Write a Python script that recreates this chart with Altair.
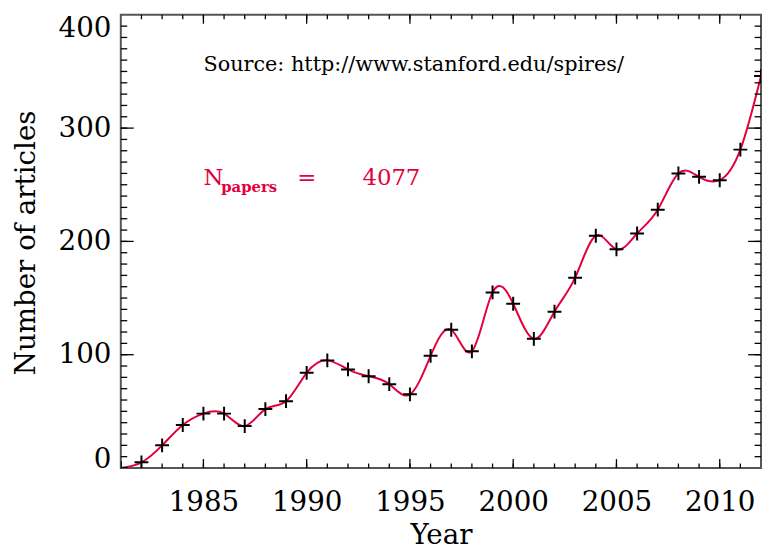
import altair as alt
import pandas as pd

years = list(range(1981, 2013))
articles = [0, 5, 20, 38, 48, 48, 37, 52, 59, 84, 95, 87, 81, 74, 65, 99,
            122, 103, 155, 145, 114, 138, 168, 205, 193, 207, 228, 260, 257, 254, 281, 346]

x_major = [1985, 1990, 1995, 2000, 2005, 2010]
x_minor = list(range(1982, 2012))
y_major = [100, 200, 300]
y_minor = list(range(10, 400, 10))
y_labels = [0, 100, 200, 300, 400]

source_text = "Source: http://www.stanford.edu/spires/"
n_papers = "4077"

FONT = "DejaVu Serif"
RED = "#e4003c"
W, H = 647, 458

df = pd.DataFrame({"Year": years, "Articles": articles})
xs = alt.Scale(domain=[1981, 2012], nice=False, zero=False)
ys = alt.Scale(domain=[0, 400], nice=False, zero=False)

x_main = alt.Axis(orient="bottom", values=x_major, format="d", ticks=False, tickSize=0,
                  domain=False, grid=False, labelFont=FONT, labelFontSize=28, labelColor="black",
                  labelBaseline="alphabetic", labelPadding=43, labelFlush=False, labelOverlap=False,
                  title="Year", titleFont=FONT, titleFontSize=28, titleFontWeight="normal",
                  titleColor="black", titleBaseline="alphabetic", titleY=76)
y_main = alt.Axis(orient="left", values=y_labels, format="d", ticks=False, tickSize=0,
                  domain=False, grid=False, labelFont=FONT, labelFontSize=28, labelColor="black",
                  labelPadding=10, labelFlush=False, labelOverlap=False,
                  labelBaseline={"condition": [{"test": "datum.value == 400", "value": "top"},
                                               {"test": "datum.value == 0", "value": "alphabetic"}],
                                 "value": "middle"},
                  title="Number of articles", titleFont=FONT, titleFontSize=28,
                  titleFontWeight="normal", titleColor="black", titleAngle=270,
                  titleAlign="center", titleBaseline="alphabetic", titleX=-87, titleY=230)

base = alt.Chart(df)

line = base.mark_line(interpolate="natural", color=RED, strokeWidth=2, clip=True).encode(
    x=alt.X("Year:Q", scale=xs, axis=x_main),
    y=alt.Y("Articles:Q", scale=ys, axis=y_main),
)

pts = base.mark_point(shape="M-1,0L1,0M0,-1L0,1", size=196, filled=False, stroke="black",
                      strokeWidth=2, opacity=1, clip=True).encode(
    x=alt.X("Year:Q", scale=xs, axis=None),
    y=alt.Y("Articles:Q", scale=ys, axis=None),
)


def xticks(values, y0, y1):
    return alt.Chart(pd.DataFrame({"v": values})).mark_rule(color="black", strokeWidth=1.3).encode(
        x=alt.X("v:Q", scale=xs, axis=None), y=alt.value(y0), y2=alt.value(y1))


def yticks(values, x0, x1):
    return alt.Chart(pd.DataFrame({"v": values})).mark_rule(color="black", strokeWidth=1.3).encode(
        y=alt.Y("v:Q", scale=ys, axis=None), x=alt.value(x0), x2=alt.value(x1))


ticks = [
    xticks(x_major, H, H - 9), xticks(x_minor, H, H - 4.5),
    xticks(x_major, 0, 9), xticks(x_minor, 0, 4.5),
    yticks(y_major, 0, 13), yticks(y_minor, 0, 6.5),
    yticks(y_major, W, W - 13), yticks(y_minor, W, W - 6.5),
]

ann = alt.Chart(pd.DataFrame({"a": [0]}))


def txt(text, xv, yv, size, color, align="left", dx=0, dy=0, weight="normal"):
    return ann.mark_text(text=text, font=FONT, fontSize=size, color=color, align=align,
                         baseline="alphabetic", dx=dx, dy=dy, fontWeight=weight).encode(
        x=alt.X(datum=xv, type="quantitative", scale=xs, axis=None),
        y=alt.Y(datum=yv, type="quantitative", scale=ys, axis=None),
    )


t_source = txt(source_text, 1985, 350, 21, "black")
t_n = txt("N", 1985, 250, 23, RED)
t_sub = txt("papers", 1985, 250, 15, RED, dx=18, dy=7, weight="bold")
t_eq = txt("=", 1990, 250, 23, RED, align="center")
t_val = txt(n_papers, 1992.7, 250, 23, RED)

chart = alt.layer(line, *ticks, pts, t_source, t_n, t_sub, t_eq, t_val,
                  ).resolve_axis(x="independent", y="independent").properties(
    width=W, height=H,
    padding={"left": 114, "top": 4, "right": 2, "bottom": 81},
    autosize=alt.AutoSizeParams(type="none"),
    background="white",
).configure_view(stroke="#555555", strokeWidth=2)

chart.save("out.html", embed_options={"renderer": "svg", "actions": False})
